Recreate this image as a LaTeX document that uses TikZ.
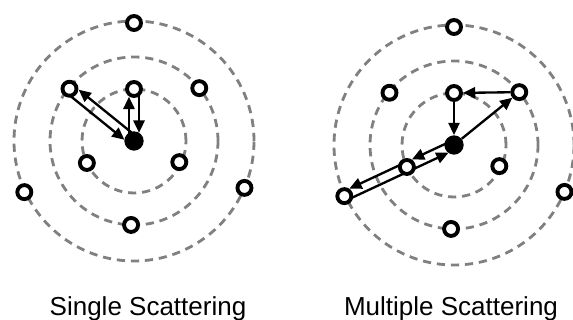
\documentclass[tikz,border=0pt]{standalone}
\usepackage{fontspec}
\setmainfont{Liberation Sans}
\usetikzlibrary{calc,arrows.meta}
\pgfdeclarelayer{back}
\pgfsetlayers{back,main}
\tikzset{
  ring/.style={draw=black!50, line width=2.4pt, dash pattern=on 7pt off 5pt},
  scat/.style={circle, draw, fill=white, line width=3.3pt, minimum size=0.42cm, inner sep=0pt},
  src/.style={circle, fill=black, minimum size=0.58cm, inner sep=0pt},
  hop/.style={line width=2pt, -{Triangle[length=10.5pt,width=9.5pt]}},
  caption/.style={anchor=base, font=\fontsize{22.2}{26}\selectfont}
}
\begin{document}
\begin{tikzpicture}[x=0.03cm,y=0.03cm]
\useasboundingbox (0,0) rectangle (573,320);
\coordinate (cL) at (134,179);
\coordinate (cR) at (454,175);
% scatterers, same layout on both sides
\foreach \s in {L,R}{
  \node[src] (\s0) at (c\s) {};
  \foreach \a/\r [count=\i] in {90/118,141/83,90/52,39/84,205/52,335/50,205/121,337/120,268/84}
    \node[scat] (\s\i) at ($(c\s)+(\a:\r)$) {};
}
\node[caption] (capL) at (148,4) {Single Scattering};
\node[caption] (capR) at (451,4) {Multiple Scattering};
\begin{pgfonlayer}{back}
\foreach \s in {L,R}
  \foreach \r in {52,84,120}
    \draw[ring] (c\s) circle (\r);
% single scattering
\draw[hop,shorten >=6.6pt] ($(L0)!4.3pt!-90:(L2)$) -- ($(L2)!4.3pt!90:(L0)$);
\draw[hop,shorten >=7pt] ($(L2)!4.3pt!-90:(L0)$) -- ($(L0)!4.3pt!90:(L2)$);
\draw[hop,shorten >=6.6pt] ($(L0)!4.3pt!90:(L3)$) -- ($(L3)!4.3pt!-90:(L0)$);
\draw[hop,shorten >=7pt] ($(L3)!4.3pt!90:(L0)$) -- ($(L0)!4.3pt!-90:(L3)$);
% multiple scattering
\draw[hop] (R0) -- (R4);
\draw[hop] (R4) -- (R3);
\draw[hop] (R3) -- (R0);
\draw[hop,shorten >=6.6pt] ($(R0)!4pt!-90:(R5)$) -- ($(R5)!4pt!90:(R0)$);
\draw[hop,shorten >=6.6pt] ($(R5)!4pt!-90:(R7)$) -- ($(R7)!4pt!90:(R5)$);
\draw[hop,shorten >=7pt] ($(R7)!4pt!-90:(R0)$) -- ($(R0)!4pt!90:(R7)$);
\end{pgfonlayer}
\end{tikzpicture}
\end{document}
